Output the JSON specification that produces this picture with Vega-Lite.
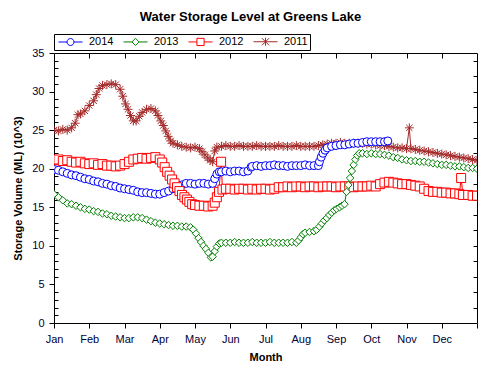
{
  "$schema": "https://vega.github.io/schema/vega-lite/v6.json",
  "width": 423,
  "height": 270,
  "autosize": {"type": "none"},
  "padding": {"left": 54, "top": 53, "right": 23, "bottom": 52},
  "background": "white",
  "title": {"text": "Water Storage Level at Greens Lake", "fontSize": 13, "font": "Liberation Sans", "fontWeight": "bold", "anchor": "middle", "dx": -15, "offset": 10, "color": "black"},
  "config": {
    "view": {"stroke": "black", "strokeWidth": 1},
    "font": "Liberation Sans",
    "axis": {"labelFont": "Liberation Sans", "labelFontSize": 11, "labelColor": "#000033", "titleFont": "Liberation Sans", "titleFontSize": 11, "titleFontWeight": "bold", "titleColor": "black", "tickColor": "black", "domain": false, "grid": false}
  },
  "data": {"values": [
    {"series":"2011","month":0,"ml":25.0},{"series":"2011","month":0.125,"ml":24.9},{"series":"2011","month":0.25,"ml":25.1},{"series":"2011","month":0.375,"ml":25.0},{"series":"2011","month":0.5,"ml":25.3},{"series":"2011","month":0.6,"ml":25.9},{"series":"2011","month":0.68,"ml":27.0},{"series":"2011","month":0.75,"ml":27.1},{"series":"2011","month":0.875,"ml":27.5},{"series":"2011","month":1.0,"ml":28.2},{"series":"2011","month":1.125,"ml":28.8},{"series":"2011","month":1.2,"ml":29.6},{"series":"2011","month":1.28,"ml":30.4},{"series":"2011","month":1.375,"ml":30.8},{"series":"2011","month":1.5,"ml":30.9},{"series":"2011","month":1.625,"ml":31.0},{"series":"2011","month":1.75,"ml":30.9},{"series":"2011","month":1.875,"ml":30.3},{"series":"2011","month":1.95,"ml":29.4},{"series":"2011","month":2.03,"ml":28.4},{"series":"2011","month":2.1,"ml":27.7},{"series":"2011","month":2.17,"ml":26.9},{"series":"2011","month":2.25,"ml":26.2},{"series":"2011","month":2.33,"ml":26.2},{"series":"2011","month":2.42,"ml":26.8},{"series":"2011","month":2.5,"ml":27.3},{"series":"2011","month":2.625,"ml":27.7},{"series":"2011","month":2.75,"ml":27.8},{"series":"2011","month":2.875,"ml":27.5},{"series":"2011","month":2.95,"ml":26.9},{"series":"2011","month":3.03,"ml":26.2},{"series":"2011","month":3.1,"ml":25.6},{"series":"2011","month":3.17,"ml":24.9},{"series":"2011","month":3.24,"ml":24.2},{"series":"2011","month":3.31,"ml":23.6},{"series":"2011","month":3.375,"ml":23.3},{"series":"2011","month":3.5,"ml":23.1},{"series":"2011","month":3.625,"ml":22.9},{"series":"2011","month":3.75,"ml":22.8},{"series":"2011","month":3.875,"ml":22.7},{"series":"2011","month":4.0,"ml":22.8},{"series":"2011","month":4.125,"ml":22.6},{"series":"2011","month":4.2,"ml":22.2},{"series":"2011","month":4.28,"ml":21.8},{"series":"2011","month":4.36,"ml":21.4},{"series":"2011","month":4.43,"ml":21.1},{"series":"2011","month":4.5,"ml":20.9},{"series":"2011","month":4.56,"ml":22.3},{"series":"2011","month":4.62,"ml":22.8},{"series":"2011","month":4.75,"ml":22.9},{"series":"2011","month":4.875,"ml":23.0},{"series":"2011","month":5.0,"ml":22.9},{"series":"2011","month":5.125,"ml":22.9},{"series":"2011","month":5.25,"ml":23.0},{"series":"2011","month":5.375,"ml":22.9},{"series":"2011","month":5.5,"ml":22.9},{"series":"2011","month":5.625,"ml":22.9},{"series":"2011","month":5.75,"ml":23.0},{"series":"2011","month":5.875,"ml":22.9},{"series":"2011","month":6.0,"ml":22.9},{"series":"2011","month":6.125,"ml":22.9},{"series":"2011","month":6.25,"ml":22.9},{"series":"2011","month":6.375,"ml":23.0},{"series":"2011","month":6.5,"ml":22.9},{"series":"2011","month":6.625,"ml":22.9},{"series":"2011","month":6.75,"ml":22.9},{"series":"2011","month":6.875,"ml":23.0},{"series":"2011","month":7.0,"ml":22.9},{"series":"2011","month":7.125,"ml":22.9},{"series":"2011","month":7.25,"ml":22.9},{"series":"2011","month":7.375,"ml":22.9},{"series":"2011","month":7.5,"ml":23.0},{"series":"2011","month":7.625,"ml":23.1},{"series":"2011","month":7.75,"ml":23.2},{"series":"2011","month":7.875,"ml":23.3},{"series":"2011","month":8.0,"ml":23.3},{"series":"2011","month":8.125,"ml":23.4},{"series":"2011","month":8.25,"ml":23.3},{"series":"2011","month":8.375,"ml":23.3},{"series":"2011","month":8.5,"ml":23.3},{"series":"2011","month":8.625,"ml":23.3},{"series":"2011","month":8.75,"ml":23.3},{"series":"2011","month":8.875,"ml":23.2},{"series":"2011","month":9.0,"ml":23.2},{"series":"2011","month":9.125,"ml":23.1},{"series":"2011","month":9.25,"ml":23.0},{"series":"2011","month":9.375,"ml":23.0},{"series":"2011","month":9.5,"ml":22.9},{"series":"2011","month":9.625,"ml":22.8},{"series":"2011","month":9.75,"ml":22.7},{"series":"2011","month":9.875,"ml":22.7},{"series":"2011","month":10.0,"ml":22.6},{"series":"2011","month":10.08,"ml":25.3},{"series":"2011","month":10.125,"ml":22.6},{"series":"2011","month":10.25,"ml":22.5},{"series":"2011","month":10.375,"ml":22.4},{"series":"2011","month":10.5,"ml":22.3},{"series":"2011","month":10.625,"ml":22.2},{"series":"2011","month":10.75,"ml":22.1},{"series":"2011","month":10.875,"ml":22.0},{"series":"2011","month":11.0,"ml":21.9},{"series":"2011","month":11.125,"ml":21.8},{"series":"2011","month":11.25,"ml":21.7},{"series":"2011","month":11.375,"ml":21.6},{"series":"2011","month":11.5,"ml":21.5},{"series":"2011","month":11.625,"ml":21.4},{"series":"2011","month":11.75,"ml":21.3},{"series":"2011","month":11.875,"ml":21.2},{"series":"2011","month":12.0,"ml":21.1},

    {"series":"2014","month":0,"ml":19.9},{"series":"2014","month":0.125,"ml":19.8},{"series":"2014","month":0.25,"ml":19.6},{"series":"2014","month":0.375,"ml":19.4},{"series":"2014","month":0.5,"ml":19.2},{"series":"2014","month":0.625,"ml":19.1},{"series":"2014","month":0.75,"ml":18.9},{"series":"2014","month":0.875,"ml":18.7},{"series":"2014","month":1.0,"ml":18.6},{"series":"2014","month":1.125,"ml":18.4},{"series":"2014","month":1.25,"ml":18.3},{"series":"2014","month":1.375,"ml":18.1},{"series":"2014","month":1.5,"ml":18.0},{"series":"2014","month":1.625,"ml":17.8},{"series":"2014","month":1.75,"ml":17.7},{"series":"2014","month":1.875,"ml":17.5},{"series":"2014","month":2.0,"ml":17.4},{"series":"2014","month":2.125,"ml":17.3},{"series":"2014","month":2.25,"ml":17.2},{"series":"2014","month":2.375,"ml":17.0},{"series":"2014","month":2.5,"ml":16.9},{"series":"2014","month":2.625,"ml":16.9},{"series":"2014","month":2.75,"ml":16.8},{"series":"2014","month":2.875,"ml":16.7},{"series":"2014","month":3.0,"ml":16.7},{"series":"2014","month":3.125,"ml":16.9},{"series":"2014","month":3.25,"ml":17.1},{"series":"2014","month":3.375,"ml":17.4},{"series":"2014","month":3.5,"ml":17.6},{"series":"2014","month":3.625,"ml":17.9},{"series":"2014","month":3.75,"ml":18.1},{"series":"2014","month":3.875,"ml":18.1},{"series":"2014","month":4.0,"ml":18.0},{"series":"2014","month":4.125,"ml":18.1},{"series":"2014","month":4.25,"ml":18.1},{"series":"2014","month":4.375,"ml":18.0},{"series":"2014","month":4.5,"ml":18.1},{"series":"2014","month":4.56,"ml":18.7},{"series":"2014","month":4.62,"ml":19.3},{"series":"2014","month":4.69,"ml":19.6},{"series":"2014","month":4.75,"ml":19.6},{"series":"2014","month":4.875,"ml":19.7},{"series":"2014","month":5.0,"ml":19.6},{"series":"2014","month":5.125,"ml":19.7},{"series":"2014","month":5.25,"ml":19.7},{"series":"2014","month":5.375,"ml":19.6},{"series":"2014","month":5.5,"ml":19.7},{"series":"2014","month":5.59,"ml":20.2},{"series":"2014","month":5.625,"ml":20.3},{"series":"2014","month":5.75,"ml":20.4},{"series":"2014","month":5.875,"ml":20.3},{"series":"2014","month":6.0,"ml":20.4},{"series":"2014","month":6.125,"ml":20.4},{"series":"2014","month":6.25,"ml":20.5},{"series":"2014","month":6.375,"ml":20.4},{"series":"2014","month":6.5,"ml":20.4},{"series":"2014","month":6.625,"ml":20.3},{"series":"2014","month":6.75,"ml":20.4},{"series":"2014","month":6.875,"ml":20.4},{"series":"2014","month":7.0,"ml":20.4},{"series":"2014","month":7.125,"ml":20.5},{"series":"2014","month":7.25,"ml":20.4},{"series":"2014","month":7.375,"ml":20.4},{"series":"2014","month":7.5,"ml":20.4},{"series":"2014","month":7.53,"ml":20.9},{"series":"2014","month":7.58,"ml":21.5},{"series":"2014","month":7.63,"ml":22.0},{"series":"2014","month":7.69,"ml":22.4},{"series":"2014","month":7.75,"ml":22.7},{"series":"2014","month":7.875,"ml":22.9},{"series":"2014","month":8.0,"ml":23.0},{"series":"2014","month":8.125,"ml":23.1},{"series":"2014","month":8.25,"ml":23.1},{"series":"2014","month":8.375,"ml":23.2},{"series":"2014","month":8.5,"ml":23.3},{"series":"2014","month":8.625,"ml":23.3},{"series":"2014","month":8.75,"ml":23.4},{"series":"2014","month":8.875,"ml":23.5},{"series":"2014","month":9.0,"ml":23.5},{"series":"2014","month":9.125,"ml":23.5},{"series":"2014","month":9.25,"ml":23.5},{"series":"2014","month":9.375,"ml":23.5},{"series":"2014","month":9.47,"ml":23.6},

    {"series":"2012","month":0,"ml":21.1},{"series":"2012","month":0.125,"ml":21.2},{"series":"2012","month":0.25,"ml":21.0},{"series":"2012","month":0.375,"ml":21.1},{"series":"2012","month":0.5,"ml":20.9},{"series":"2012","month":0.625,"ml":20.8},{"series":"2012","month":0.75,"ml":20.9},{"series":"2012","month":0.875,"ml":20.7},{"series":"2012","month":1.0,"ml":20.6},{"series":"2012","month":1.125,"ml":20.7},{"series":"2012","month":1.25,"ml":20.5},{"series":"2012","month":1.375,"ml":20.6},{"series":"2012","month":1.5,"ml":20.4},{"series":"2012","month":1.625,"ml":20.4},{"series":"2012","month":1.75,"ml":20.3},{"series":"2012","month":1.875,"ml":20.4},{"series":"2012","month":2.0,"ml":20.6},{"series":"2012","month":2.125,"ml":20.9},{"series":"2012","month":2.25,"ml":21.2},{"series":"2012","month":2.375,"ml":21.3},{"series":"2012","month":2.5,"ml":21.4},{"series":"2012","month":2.625,"ml":21.3},{"series":"2012","month":2.75,"ml":21.4},{"series":"2012","month":2.875,"ml":21.5},{"series":"2012","month":3.0,"ml":21.2},{"series":"2012","month":3.07,"ml":20.8},{"series":"2012","month":3.14,"ml":20.2},{"series":"2012","month":3.21,"ml":19.6},{"series":"2012","month":3.28,"ml":19.1},{"series":"2012","month":3.35,"ml":18.6},{"series":"2012","month":3.42,"ml":18.1},{"series":"2012","month":3.49,"ml":17.6},{"series":"2012","month":3.56,"ml":17.1},{"series":"2012","month":3.63,"ml":16.6},{"series":"2012","month":3.7,"ml":16.3},{"series":"2012","month":3.77,"ml":16.0},{"series":"2012","month":3.84,"ml":15.7},{"series":"2012","month":3.92,"ml":15.4},{"series":"2012","month":4.0,"ml":15.3},{"series":"2012","month":4.125,"ml":15.2},{"series":"2012","month":4.25,"ml":15.2},{"series":"2012","month":4.375,"ml":15.1},{"series":"2012","month":4.5,"ml":15.2},{"series":"2012","month":4.56,"ml":15.6},{"series":"2012","month":4.62,"ml":16.3},{"series":"2012","month":4.68,"ml":17.0},{"series":"2012","month":4.74,"ml":20.9},{"series":"2012","month":4.78,"ml":17.3},{"series":"2012","month":4.875,"ml":17.4},{"series":"2012","month":5.0,"ml":17.4},{"series":"2012","month":5.125,"ml":17.3},{"series":"2012","month":5.25,"ml":17.4},{"series":"2012","month":5.375,"ml":17.4},{"series":"2012","month":5.5,"ml":17.3},{"series":"2012","month":5.625,"ml":17.4},{"series":"2012","month":5.75,"ml":17.3},{"series":"2012","month":5.875,"ml":17.4},{"series":"2012","month":6.0,"ml":17.4},{"series":"2012","month":6.125,"ml":17.3},{"series":"2012","month":6.25,"ml":17.4},{"series":"2012","month":6.375,"ml":17.6},{"series":"2012","month":6.5,"ml":17.6},{"series":"2012","month":6.625,"ml":17.7},{"series":"2012","month":6.75,"ml":17.6},{"series":"2012","month":6.875,"ml":17.7},{"series":"2012","month":7.0,"ml":17.7},{"series":"2012","month":7.125,"ml":17.6},{"series":"2012","month":7.25,"ml":17.7},{"series":"2012","month":7.375,"ml":17.7},{"series":"2012","month":7.5,"ml":17.6},{"series":"2012","month":7.625,"ml":17.7},{"series":"2012","month":7.75,"ml":17.7},{"series":"2012","month":7.875,"ml":17.7},{"series":"2012","month":8.0,"ml":17.6},{"series":"2012","month":8.125,"ml":17.7},{"series":"2012","month":8.25,"ml":17.7},{"series":"2012","month":8.375,"ml":17.7},{"series":"2012","month":8.5,"ml":17.6},{"series":"2012","month":8.625,"ml":17.7},{"series":"2012","month":8.75,"ml":17.7},{"series":"2012","month":8.875,"ml":17.7},{"series":"2012","month":9.0,"ml":17.8},{"series":"2012","month":9.125,"ml":17.7},{"series":"2012","month":9.25,"ml":18.0},{"series":"2012","month":9.375,"ml":18.2},{"series":"2012","month":9.5,"ml":18.3},{"series":"2012","month":9.625,"ml":18.2},{"series":"2012","month":9.75,"ml":18.1},{"series":"2012","month":9.875,"ml":18.0},{"series":"2012","month":10.0,"ml":18.0},{"series":"2012","month":10.125,"ml":17.9},{"series":"2012","month":10.25,"ml":17.8},{"series":"2012","month":10.375,"ml":17.7},{"series":"2012","month":10.5,"ml":17.4},{"series":"2012","month":10.625,"ml":17.1},{"series":"2012","month":10.75,"ml":17.0},{"series":"2012","month":10.875,"ml":17.0},{"series":"2012","month":11.0,"ml":16.9},{"series":"2012","month":11.125,"ml":16.9},{"series":"2012","month":11.25,"ml":16.8},{"series":"2012","month":11.375,"ml":16.8},{"series":"2012","month":11.5,"ml":16.7},{"series":"2012","month":11.55,"ml":18.8},{"series":"2012","month":11.6,"ml":16.6},{"series":"2012","month":11.75,"ml":16.6},{"series":"2012","month":11.875,"ml":16.5},{"series":"2012","month":12.0,"ml":16.5},

    {"series":"2013","month":0,"ml":16.7},{"series":"2013","month":0.125,"ml":16.3},{"series":"2013","month":0.25,"ml":15.9},{"series":"2013","month":0.375,"ml":15.5},{"series":"2013","month":0.5,"ml":15.4},{"series":"2013","month":0.625,"ml":15.2},{"series":"2013","month":0.75,"ml":15.0},{"series":"2013","month":0.875,"ml":14.8},{"series":"2013","month":1.0,"ml":14.7},{"series":"2013","month":1.125,"ml":14.5},{"series":"2013","month":1.25,"ml":14.4},{"series":"2013","month":1.375,"ml":14.2},{"series":"2013","month":1.5,"ml":14.1},{"series":"2013","month":1.625,"ml":13.9},{"series":"2013","month":1.75,"ml":13.8},{"series":"2013","month":1.875,"ml":13.7},{"series":"2013","month":2.0,"ml":13.6},{"series":"2013","month":2.125,"ml":13.6},{"series":"2013","month":2.25,"ml":13.7},{"series":"2013","month":2.375,"ml":13.7},{"series":"2013","month":2.5,"ml":13.6},{"series":"2013","month":2.625,"ml":13.4},{"series":"2013","month":2.75,"ml":13.2},{"series":"2013","month":2.875,"ml":13.0},{"series":"2013","month":3.0,"ml":12.9},{"series":"2013","month":3.125,"ml":12.8},{"series":"2013","month":3.25,"ml":12.7},{"series":"2013","month":3.375,"ml":12.6},{"series":"2013","month":3.5,"ml":12.6},{"series":"2013","month":3.625,"ml":12.5},{"series":"2013","month":3.75,"ml":12.5},{"series":"2013","month":3.875,"ml":12.4},{"series":"2013","month":3.95,"ml":12.1},{"series":"2013","month":4.03,"ml":11.6},{"series":"2013","month":4.1,"ml":11.0},{"series":"2013","month":4.17,"ml":10.5},{"series":"2013","month":4.24,"ml":10.0},{"series":"2013","month":4.31,"ml":9.6},{"series":"2013","month":4.38,"ml":9.1},{"series":"2013","month":4.45,"ml":8.5},{"series":"2013","month":4.5,"ml":8.6},{"series":"2013","month":4.56,"ml":9.3},{"series":"2013","month":4.62,"ml":9.9},{"series":"2013","month":4.69,"ml":10.3},{"series":"2013","month":4.75,"ml":10.4},{"series":"2013","month":4.875,"ml":10.4},{"series":"2013","month":5.0,"ml":10.4},{"series":"2013","month":5.125,"ml":10.5},{"series":"2013","month":5.25,"ml":10.4},{"series":"2013","month":5.375,"ml":10.4},{"series":"2013","month":5.5,"ml":10.4},{"series":"2013","month":5.625,"ml":10.5},{"series":"2013","month":5.75,"ml":10.4},{"series":"2013","month":5.875,"ml":10.4},{"series":"2013","month":6.0,"ml":10.4},{"series":"2013","month":6.125,"ml":10.5},{"series":"2013","month":6.25,"ml":10.4},{"series":"2013","month":6.375,"ml":10.4},{"series":"2013","month":6.5,"ml":10.4},{"series":"2013","month":6.625,"ml":10.4},{"series":"2013","month":6.75,"ml":10.5},{"series":"2013","month":6.875,"ml":10.4},{"series":"2013","month":6.94,"ml":10.7},{"series":"2013","month":7.0,"ml":11.1},{"series":"2013","month":7.06,"ml":11.5},{"series":"2013","month":7.125,"ml":11.7},{"series":"2013","month":7.25,"ml":11.8},{"series":"2013","month":7.375,"ml":11.9},{"series":"2013","month":7.45,"ml":12.1},{"series":"2013","month":7.53,"ml":12.5},{"series":"2013","month":7.6,"ml":12.9},{"series":"2013","month":7.67,"ml":13.3},{"series":"2013","month":7.74,"ml":13.6},{"series":"2013","month":7.81,"ml":14.0},{"series":"2013","month":7.88,"ml":14.3},{"series":"2013","month":7.95,"ml":14.6},{"series":"2013","month":8.02,"ml":14.8},{"series":"2013","month":8.1,"ml":15.0},{"series":"2013","month":8.17,"ml":15.2},{"series":"2013","month":8.24,"ml":15.4},{"series":"2013","month":8.3,"ml":17.0},{"series":"2013","month":8.35,"ml":17.9},{"series":"2013","month":8.4,"ml":18.8},{"series":"2013","month":8.45,"ml":19.7},{"series":"2013","month":8.5,"ml":20.5},{"series":"2013","month":8.55,"ml":21.2},{"series":"2013","month":8.6,"ml":21.7},{"series":"2013","month":8.66,"ml":22.0},{"series":"2013","month":8.75,"ml":22.0},{"series":"2013","month":8.875,"ml":21.9},{"series":"2013","month":9.0,"ml":22.0},{"series":"2013","month":9.125,"ml":21.9},{"series":"2013","month":9.25,"ml":21.9},{"series":"2013","month":9.375,"ml":21.8},{"series":"2013","month":9.5,"ml":21.7},{"series":"2013","month":9.625,"ml":21.5},{"series":"2013","month":9.75,"ml":21.4},{"series":"2013","month":9.875,"ml":21.2},{"series":"2013","month":10.0,"ml":21.1},{"series":"2013","month":10.125,"ml":21.0},{"series":"2013","month":10.25,"ml":21.0},{"series":"2013","month":10.375,"ml":20.9},{"series":"2013","month":10.5,"ml":20.9},{"series":"2013","month":10.625,"ml":20.8},{"series":"2013","month":10.75,"ml":20.7},{"series":"2013","month":10.875,"ml":20.6},{"series":"2013","month":11.0,"ml":20.5},{"series":"2013","month":11.125,"ml":20.5},{"series":"2013","month":11.25,"ml":20.4},{"series":"2013","month":11.375,"ml":20.3},{"series":"2013","month":11.5,"ml":20.3},{"series":"2013","month":11.625,"ml":20.2},{"series":"2013","month":11.75,"ml":20.1},{"series":"2013","month":11.875,"ml":20.1},{"series":"2013","month":12.0,"ml":20.0}
  ]},
  "layer": [
    {
      "mark": {"type": "line", "strokeWidth": 1, "clip": true},
      "encoding": {
        "x": {"field": "month", "type": "quantitative", "scale": {"domain": [0, 12], "nice": false},
              "axis": {"orient": "bottom", "values": [0,1,2,3,4,5,6,7,8,9,10,11,12], "labelExpr": "['Jan','Feb','Mar','Apr','May','Jun','Jul','Aug','Sep','Oct','Nov','Dec',''][datum.value]", "tickSize": 5, "labelPadding": 5, "title": "Month", "titlePadding": 7, "labelFlush": false, "labelOverlap": false}},
        "y": {"field": "ml", "type": "quantitative", "scale": {"domain": [0, 35], "nice": false},
              "axis": {"orient": "left", "values": [0,1,2,3,4,5,6,7,8,9,10,11,12,13,14,15,16,17,18,19,20,21,22,23,24,25,26,27,28,29,30,31,32,33,34,35], "labelExpr": "datum.value % 5 === 0 ? datum.label : ''", "tickSize": {"condition": {"test": "datum.value % 5 === 0", "value": 5}, "value": -4}, "labelPadding": 5, "title": "Storage Volume (ML) (10^3)", "titlePadding": 8, "labelFlush": false, "labelOverlap": false}},
        "color": {"field": "series", "type": "nominal", "scale": {"domain": ["2014", "2013", "2012", "2011"], "range": ["#0000FF", "#008000", "#FF0000", "#A52A2A"]},
                  "legend": {"orient": "none", "legendX": 0, "legendY": -19, "direction": "horizontal", "columns": 4, "title": null, "strokeColor": "black", "fillColor": "white", "padding": 2, "cornerRadius": 0, "symbolSize": 64, "symbolStrokeWidth": 1, "symbolOffset": 9, "labelOffset": 13, "columnPadding": 7, "labelFont": "Liberation Sans", "labelFontSize": 11, "labelColor": "black",
                    "encode": {"symbols": {"update": {"shape": {"signal": "datum.value === '2014' ? 'M-3,0L-0.87,0M0.87,0L3,0M-0.87,0A0.87,0.87,0,1,1,0.87,0A0.87,0.87,0,1,1,-0.87,0Z' : datum.value === '2013' ? 'M-3,0L-0.9,0M0.9,0L3,0M-0.9,0L0,-0.9L0.9,0L0,0.9Z' : datum.value === '2012' ? 'M-3,0L-0.9,0M0.9,0L3,0M-0.9,-0.9L0.9,-0.9L0.9,0.9L-0.9,0.9Z' : 'M-3,0L3,0M0,-1L0,1M-0.9,-0.9L0.9,0.9M-0.9,0.9L0.9,-0.9'"}, "fill": {"value": "white"}, "fillOpacity": {"value": 1}, "stroke": {"scale": "color", "field": "value"}, "strokeWidth": {"value": 1}}}}}}
      }
    },
    {
      "transform": [{"filter": "datum.series === '2011'"}],
      "mark": {"type": "point", "shape": "M-1,0L1,0M0,-1L0,1M-0.7,-0.7L0.7,0.7M-0.7,0.7L0.7,-0.7", "size": 81, "filled": false, "strokeWidth": 1, "opacity": 1, "clip": true},
      "encoding": {
        "x": {"field": "month", "type": "quantitative", "axis": null},
        "y": {"field": "ml", "type": "quantitative", "axis": null},
        "color": {"field": "series", "type": "nominal", "legend": null}
      }
    },
    {
      "transform": [{"filter": "datum.series === '2014'"}],
      "mark": {"type": "point", "shape": "circle", "size": 64, "filled": false, "fill": "white", "fillOpacity": 1, "strokeWidth": 1, "opacity": 1, "clip": true},
      "encoding": {
        "x": {"field": "month", "type": "quantitative", "axis": null},
        "y": {"field": "ml", "type": "quantitative", "axis": null},
        "color": {"field": "series", "type": "nominal", "legend": null}
      }
    },
    {
      "transform": [{"filter": "datum.series === '2012'"}],
      "mark": {"type": "point", "shape": "square", "size": 81, "filled": false, "fill": "white", "fillOpacity": 1, "strokeWidth": 1, "opacity": 1, "clip": true},
      "encoding": {
        "x": {"field": "month", "type": "quantitative", "axis": null},
        "y": {"field": "ml", "type": "quantitative", "axis": null},
        "color": {"field": "series", "type": "nominal", "legend": null}
      }
    },
    {
      "transform": [{"filter": "datum.series === '2013'"}],
      "mark": {"type": "point", "shape": "diamond", "size": 56, "filled": false, "fill": "white", "fillOpacity": 1, "strokeWidth": 1, "opacity": 1, "clip": true},
      "encoding": {
        "x": {"field": "month", "type": "quantitative", "axis": null},
        "y": {"field": "ml", "type": "quantitative", "axis": null},
        "color": {"field": "series", "type": "nominal", "legend": null}
      }
    },
    {
      "mark": {"type": "point", "opacity": 0},
      "encoding": {
        "x": {"field": "month", "type": "quantitative", "axis": {"orient": "top", "values": [1,2,3,4,5,6,7,8,9,10,11], "labels": false, "tickSize": -5, "title": null, "domain": false}},
        "y": {"field": "ml", "type": "quantitative", "axis": {"orient": "right", "values": [2,4,6,8,10,12,14,16,18,20,22,24,26,28,30,32,34], "labels": false, "tickSize": -4, "title": null, "domain": false}}
      }
    }
  ],
  "resolve": {"axis": {"x": "independent", "y": "independent"}}
}
